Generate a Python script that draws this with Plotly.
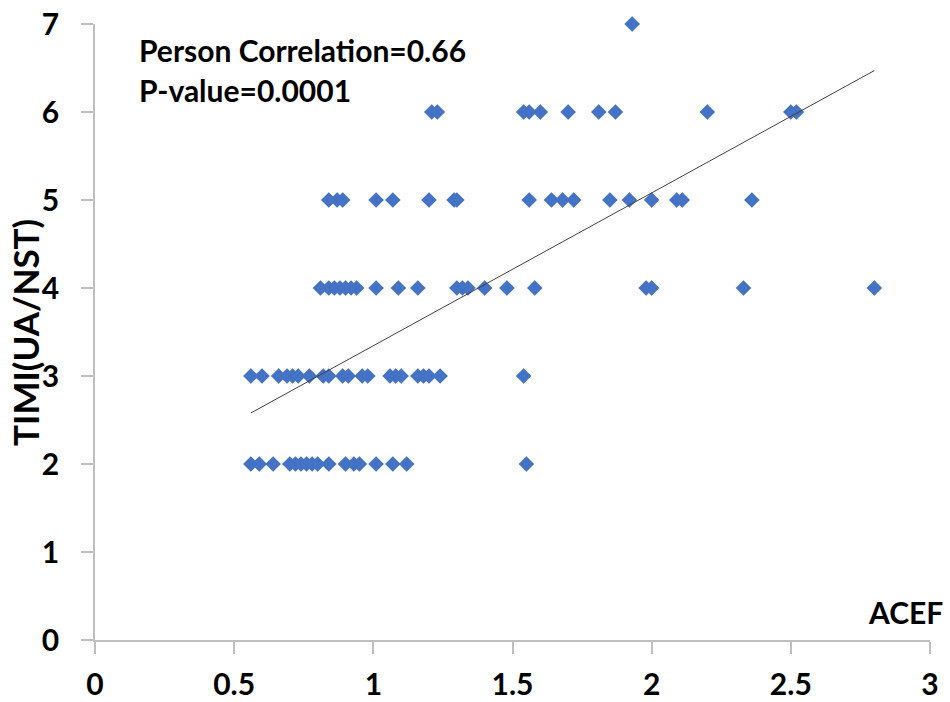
import numpy as np
import plotly.graph_objects as go

# ACEF values grouped by TIMI score
timi_scores = [2, 3, 4, 5, 6, 7]
acef_timi2 = [0.56, 0.59, 0.64, 0.70, 0.72, 0.74, 0.76, 0.78, 0.80, 0.84, 0.90, 0.93, 0.95, 1.01, 1.07, 1.12, 1.55]
acef_timi3 = [0.56, 0.60, 0.66, 0.69, 0.71, 0.73, 0.77, 0.82, 0.84, 0.89, 0.91, 0.96, 0.98, 1.06, 1.08, 1.10,
              1.16, 1.18, 1.20, 1.24, 1.54]
acef_timi4 = [0.81, 0.84, 0.86, 0.88, 0.90, 0.92, 0.94, 1.01, 1.09, 1.16, 1.30, 1.32, 1.34, 1.40, 1.48, 1.58,
              1.98, 2.00, 2.33, 2.80]
acef_timi5 = [0.84, 0.87, 0.89, 1.01, 1.07, 1.20, 1.29, 1.30, 1.56, 1.64, 1.68, 1.72, 1.85, 1.92, 2.00, 2.09,
              2.11, 2.36]
acef_timi6 = [1.21, 1.23, 1.54, 1.56, 1.60, 1.70, 1.81, 1.87, 2.20, 2.50, 2.52]
acef_timi7 = [1.93]

# linear trendline (slope, intercept)
trend_slope = 1.737
trend_intercept = 1.607

annotation_lines = ["Person Correlation=0.66", "P-value=0.0001"]
x_ticks = [0, 0.5, 1, 1.5, 2, 2.5, 3]
y_ticks = [0, 1, 2, 3, 4, 5, 6, 7]

groups = [acef_timi2, acef_timi3, acef_timi4, acef_timi5, acef_timi6, acef_timi7]
xs, ys = [], []
for s, g in zip(timi_scores, groups):
    xs += g
    ys += [s] * len(g)
xs = np.array(xs)
ys = np.array(ys)

tx = np.array([xs.min(), xs.max()])
ty = trend_slope * tx + trend_intercept

FONT = "Lato"
fig = go.Figure()
fig.add_trace(go.Scatter(x=xs, y=ys, mode="markers", cliponaxis=False,
                         marker=dict(symbol="diamond", size=12, color="#4472C4"),
                         showlegend=False))
fig.add_trace(go.Scatter(x=tx, y=ty, mode="lines",
                         line=dict(color="#404040", width=1), showlegend=False))

fig.update_layout(
    width=950, height=702,
    margin=dict(l=95, r=20, t=24, b=62),
    plot_bgcolor="white", paper_bgcolor="white",
    font=dict(family=FONT, color="black"),
)
fig.update_xaxes(range=[0, 3], tickvals=x_ticks, ticktext=[str(v) for v in x_ticks], automargin=False,
                 showgrid=False, zeroline=False, showline=True, linecolor="#bfbfbf", linewidth=1.5,
                 ticks="outside", ticklen=12, tickcolor="#bfbfbf", tickwidth=1.5, ticklabelstandoff=5,
                 tickfont=dict(family=FONT, size=30, color="black", weight="bold"))
fig.update_yaxes(range=[0, 7], tickvals=y_ticks, showgrid=False, zeroline=False, showline=True,
                 automargin=False, ticklabelstandoff=16,
                 linecolor="#bfbfbf", linewidth=1.5, ticks="outside", ticklen=12, tickcolor="#bfbfbf",
                 tickwidth=1.5, tickfont=dict(family=FONT, size=30, color="black", weight="bold"))

fig.add_annotation(text="ACEF", xref="paper", yref="paper", x=(945 - 95) / 835, y=(640 - 612) / 616,
                   xanchor="right", yanchor="middle", showarrow=False,
                   font=dict(family=FONT, size=30, color="black", weight="bold"))
fig.add_annotation(text="TIMI(UA/NST)", xref="paper", yref="paper", x=(25 - 95) / 835, y=(640 - 333) / 616,
                   xanchor="center", yanchor="middle", textangle=-90, showarrow=False,
                   font=dict(family=FONT, size=35, color="black", weight="bold"))
for i, line in enumerate(annotation_lines):
    fig.add_annotation(text=line, xref="paper", yref="paper", x=(137 - 95) / 835,
                       y=(640 - (50 + 40 * i)) / 616, xanchor="left", yanchor="middle", showarrow=False,
                       font=dict(family=FONT, size=30, color="black", weight="bold"))

fig.write_html("out.html")
